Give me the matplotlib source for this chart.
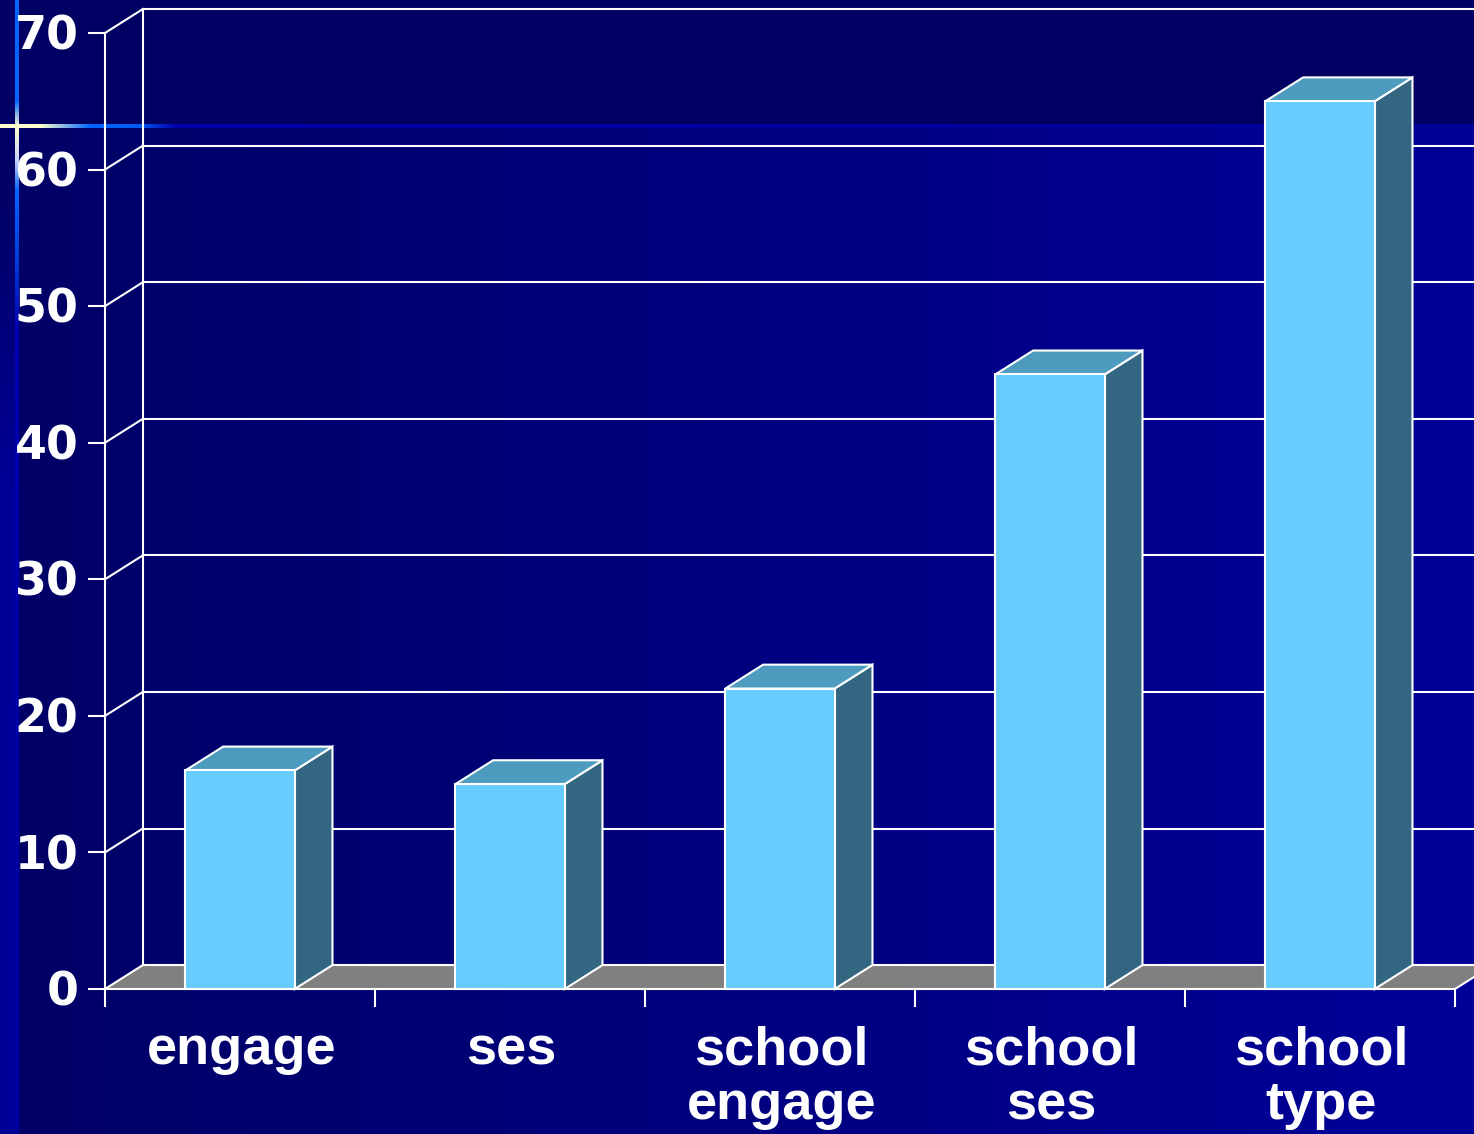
import numpy as np
import matplotlib
matplotlib.use("Agg")
import matplotlib.pyplot as plt
from matplotlib.patches import Polygon

categories = ["engage", "ses", "school\nengage", "school\nses", "school\ntype"]
values = [16, 15, 22, 45, 65]
yticks = [0, 10, 20, 30, 40, 50, 60, 70]

W, H = 1474, 1134
fig = plt.figure(figsize=(W / 100, H / 100), dpi=100)

# slide background: dark band on top, left-to-right gradient below, template cross
img = np.zeros((H, W, 3))
xs = np.arange(W)
grad = (0x66 + (0x99 - 0x66) * np.clip((xs - 19) / (W - 19), 0, 1)) / 255
img[:, :, 2] = grad[None, :]
img[:128, :, 2] = 0x62 / 255
ys = np.arange(H)
strip = (0x66 + (0x99 - 0x66) * np.clip((ys - 200) / 300, 0, 1)) / 255
img[:, :15, 2] = strip[:, None]

def blend(stops, n):
    pos = [p for p, _ in stops]
    cols = np.array([c for _, c in stops]) / 255
    t = np.arange(n)
    return np.stack([np.interp(t, pos, cols[:, k]) for k in range(3)], axis=1)

vline = blend([(0, (0, 102, 255)), (100, (0, 102, 255)), (126, (255, 255, 204)),
               (160, (200, 210, 255)), (190, (0, 102, 255)), (260, (0, 60, 220)),
               (330, (0, 0, 175)), (H - 1, (0, 0, 160))], H)
img[:, 15:19, :] = vline[:, None, :]
hline = blend([(0, (255, 255, 204)), (40, (255, 255, 204)), (90, (0, 102, 255)),
               (140, (0, 90, 240)), (175, (0, 0, 170)), (W - 1, (0, 0, 150))], W)
img[124:128, :, :] = hline[None, :, :]
img[124:128, 15:19, :] = (1.0, 1.0, 210 / 255)

bg = fig.add_axes([0, 0, 1, 1])
bg.imshow(img, aspect="auto", interpolation="nearest")
bg.axis("off")

ax = fig.add_axes([105 / W, 145 / H, 1350 / W, 956 / H])
ax.set_xlim(0, len(categories))
ax.set_ylim(0, 70)
ax.axis("off")

n = len(categories)
dx, dy = 0.14, 1.75
lw = 1.5
white = "white"

# floor
ax.add_patch(Polygon([(0, 0), (n, 0), (n + dx, dy), (dx, dy)], closed=True,
                     facecolor="#808080", edgecolor="none", zorder=1, clip_on=False))
ax.plot([n, n + dx], [0, dy], color=white, lw=lw, zorder=1.5, clip_on=False)

# back wall gridlines and side wall
for t in yticks:
    ax.plot([dx, n + dx + 0.2], [t + dy, t + dy], color=white, lw=lw, zorder=1.5, clip_on=False)
    ax.plot([0, dx], [t, t + dy], color=white, lw=lw, zorder=1.5, clip_on=False)
    ax.plot([-0.06, 0], [t, t], color=white, lw=lw, zorder=1.5, clip_on=False)
    ax.annotate(str(t), xy=(0, t), xytext=(-19, -3), textcoords="offset points",
                ha="right", va="center", color=white, fontsize=33,
                fontweight="bold", family="DejaVu Sans", annotation_clip=False)
ax.plot([dx, dx], [dy, 70 + dy], color=white, lw=lw, zorder=1.5, clip_on=False)
ax.plot([0, 0], [-1.25, 70], color=white, lw=lw, zorder=1.5, clip_on=False)
ax.plot([0, n], [0, 0], color=white, lw=lw, zorder=1.5, clip_on=False)
for k in range(1, n + 1):
    ax.plot([k, k], [-1.25, 0], color=white, lw=lw, zorder=1.5, clip_on=False)

# 3D bars
xpos = np.arange(n) + 0.5
width = 0.405
ax.bar(xpos, values, width=width, color="#66CCFF", edgecolor=white,
       linewidth=lw, zorder=4, clip_on=False)
for x, v in zip(xpos, values):
    l, r = x - width / 2, x + width / 2
    ax.add_patch(Polygon([(r, 0), (r + dx, dy), (r + dx, v + dy), (r, v)], closed=True,
                         facecolor="#336680", edgecolor=white, lw=lw, zorder=3,
                         clip_on=False))
    ax.add_patch(Polygon([(l, v), (r, v), (r + dx, v + dy), (l + dx, v + dy)], closed=True,
                         facecolor="#4D9BBF", edgecolor=white, lw=lw, zorder=3,
                         clip_on=False))

# category labels
for x, name in zip(xpos, categories):
    ax.annotate(name, xy=(x, 0), xytext=(1, -26), textcoords="offset points",
                ha="center", va="top", color=white, fontsize=39, fontweight="bold",
                family="Liberation Sans", linespacing=1.13, annotation_clip=False)

fig.savefig("out.png", dpi=100)
